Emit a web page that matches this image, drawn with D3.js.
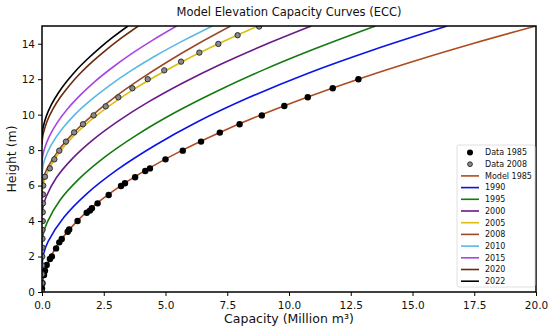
<!DOCTYPE html>
<html>
<head>
<meta charset="utf-8">
<script src="https://cdn.jsdelivr.net/npm/d3@7"></script>
<style>
  body { margin: 0; background: #fff; }
  svg { font-family: "DejaVu Sans", sans-serif; }
</style>
</head>
<body>
<svg id="chart" width="550" height="329"></svg>
<script>
// observed survey points [capacity, height]
const data1985 = [[0.0,0.2],[0.02,0.5],[0.08,0.96],[0.12,1.2],[0.19,1.52],[0.32,1.86],[0.4,2.0],[0.57,2.46],[0.7,2.8],[0.8,2.99],
  [1.04,3.4],[1.1,3.53],[1.44,4.0],[1.81,4.47],[1.94,4.59],[2.02,4.72],[2.25,5.0],[2.7,5.47],[3.2,5.98],[3.36,6.13],
  [3.77,6.47],[4.18,6.82],[4.37,6.97],[5.0,7.48],[5.7,7.97],[6.44,8.48],[7.2,8.99],[8.0,9.46],[8.9,9.96],[9.81,10.49],
  [10.76,10.98],[11.77,11.49],[12.81,12.0]];
const data2008 = [[0.0,0],[0.0,0.5],[0.01,1.0],[0.01,1.5],[0.01,2],[0.02,2.5],[0.02,3],[0.02,3.5],[0.03,4],[0.03,4.5],
  [0.04,5],[0.04,5.5],[0.05,6.0],[0.12,6.5],[0.32,6.97],[0.5,7.48],[0.7,7.97],[0.97,8.48],[1.3,9.0],[1.66,9.46],
  [2.09,9.96],[2.58,10.47],[3.09,10.98],[3.66,11.49],[4.28,12.0],[4.95,12.5],[5.63,12.99],[6.37,13.5],[7.14,13.99],
  [7.92,14.48],[8.79,14.97]];

// model curves [capacity, height]
const model1985 = [[0,0],[0.022,0.5],[0.089,1],[0.356,2],[0.8,3],[1.42,4],[2.22,5],[3.2,6],[4.36,7],[5.69,8],[7.2,9],
  [8.89,10],[10.76,11],[12.8,12],[15.02,13],[17.42,14],[20,15]];
const curve1990 = [[0,1.5],[0.07,2.18],[0.25,2.85],[0.88,4.2],[1.82,5.55],[3.05,6.9],[4.55,8.25],[6.3,9.6],[8.35,10.95],
  [10.7,12.3],[13.4,13.65],[16.4,15]];
const curve1995 = [[0,2.7],[0.06,3.32],[0.21,3.93],[0.72,5.16],[1.51,6.39],[2.55,7.62],[3.83,8.85],[5.33,10.08],[7.06,11.31],
  [8.99,12.54],[11.15,13.77],[13.5,15]];
const curve2000 = [[0,4.3],[0.05,4.84],[0.17,5.37],[0.58,6.44],[1.22,7.51],[2.06,8.58],[3.1,9.65],[4.31,10.72],[5.7,11.79],
  [7.26,12.86],[9.0,13.93],[10.9,15]];
const curve2005 = [[0,5.5],[0.04,5.98],[0.13,6.45],[0.47,7.4],[0.98,8.35],[1.65,9.3],[2.49,10.25],[3.46,11.2],[4.58,12.15],
  [5.83,13.1],[7.23,14.05],[8.75,15]];
const curve2008 = [[0,6],[0.072,6.5],[0.221,7],[0.676,8],[1.3,9],[2.07,10],[2.96,11],[3.98,12],[5.1,13],[6.32,14],[7.64,15]];
const curve2010 = [[0,6.6],[0.03,7.02],[0.1,7.44],[0.37,8.28],[0.77,9.12],[1.3,9.96],[1.96,10.8],[2.73,11.64],[3.61,12.48],
  [4.6,13.32],[5.7,14.16],[6.9,15]];
const curve2015 = [[0,7.2],[0.02,7.59],[0.08,7.98],[0.29,8.76],[0.61,9.54],[1.03,10.32],[1.55,11.1],[2.15,11.88],[2.85,12.66],
  [3.63,13.44],[4.5,14.22],[5.45,15]];
const curve2020 = [[0,8.3],[0.017,8.64],[0.06,8.97],[0.21,9.64],[0.44,10.31],[0.74,10.98],[1.11,11.65],[1.54,12.32],[2.04,12.99],
  [2.6,13.66],[3.22,14.33],[3.9,15]];
const curve2022 = [[0,8.7],[0.015,9.02],[0.053,9.33],[0.187,9.96],[0.39,10.59],[0.66,11.22],[0.99,11.85],[1.37,12.48],[1.82,13.11],
  [2.32,13.74],[2.87,14.37],[3.48,15]];

const curveNames = ["Model 1985", "1990", "1995", "2000", "2005", "2008", "2010", "2015", "2020", "2022"];
const curveData = [model1985, curve1990, curve1995, curve2000, curve2005, curve2008, curve2010, curve2015, curve2020, curve2022];
const curveColors = ["#b04a1e", "#0a14e6", "#137a10", "#6a1a8a", "#d9be10", "#9a4a2a", "#5ab8e6", "#a844e6", "#6a2a0a", "#000000"];

const xTicks = [0, 2.5, 5, 7.5, 10, 12.5, 15, 17.5, 20];
const yTicks = [0, 2, 4, 6, 8, 10, 12, 14];

const svg = d3.select("#chart");
const margin = {left: 42, right: 14, top: 26, bottom: 37};
const width = 550, height = 329;

const x = d3.scaleLinear().domain([0, 20]).range([margin.left, width - margin.right]);
const y = d3.scaleLinear().domain([0, 15]).range([height - margin.bottom, margin.top]);

svg.append("defs").append("clipPath").attr("id", "plotClip")
  .append("rect")
  .attr("x", margin.left).attr("y", margin.top)
  .attr("width", x(20) - x(0)).attr("height", y(0) - y(15));

const plot = svg.append("g").attr("clip-path", "url(#plotClip)");

const line = d3.line()
  .x(d => x(d[0]))
  .y(d => y(d[1]))
  .curve(d3.curveCatmullRom.alpha(0.5));

// draw curves first, then data on top
curveData.forEach((pts, i) => {
  plot.append("path")
    .attr("d", line(pts))
    .attr("fill", "none")
    .attr("stroke", curveColors[i])
    .attr("stroke-width", 1.6);
});

plot.selectAll(".d85").data(data1985).join("circle")
  .attr("cx", d => x(d[0])).attr("cy", d => y(d[1]))
  .attr("r", 3.2).attr("fill", "#000");

plot.selectAll(".d08").data(data2008).join("circle")
  .attr("cx", d => x(d[0])).attr("cy", d => y(d[1]))
  .attr("r", 2.7).attr("fill", "#8a8a8a")
  .attr("stroke", "#222").attr("stroke-width", 0.9);

// axes
const xAxis = svg.append("g")
  .attr("transform", `translate(0,${y(0)})`)
  .call(d3.axisBottom(x).tickValues(xTicks).tickFormat(d3.format(".1f")).tickSize(4).tickSizeOuter(0));
const yAxis = svg.append("g")
  .attr("transform", `translate(${x(0)},0)`)
  .call(d3.axisLeft(y).tickValues(yTicks).tickSize(4).tickSizeOuter(0));

[xAxis, yAxis].forEach(g => {
  g.select(".domain").remove();
  g.selectAll("line").attr("stroke", "#000").attr("stroke-width", 1);
  g.selectAll("text").attr("fill", "#111").style("font-size", "10.5px")
    .style("font-family", "DejaVu Sans, sans-serif");
});
xAxis.selectAll("text").attr("dy", "0.95em");

// frame
svg.append("rect")
  .attr("x", x(0)).attr("y", y(15))
  .attr("width", x(20) - x(0)).attr("height", y(0) - y(15))
  .attr("fill", "none").attr("stroke", "#000").attr("stroke-width", 1.5);

// labels
svg.append("text")
  .attr("x", (x(0) + x(20)) / 2).attr("y", 16)
  .attr("text-anchor", "middle").style("font-size", "11.5px").attr("fill", "#111")
  .text("Model Elevation Capacity Curves (ECC)");

svg.append("text")
  .attr("x", (x(0) + x(20)) / 2).attr("y", 323)
  .attr("text-anchor", "middle").style("font-size", "12.5px").attr("fill", "#111")
  .text("Capacity (Million m³)");

svg.append("text")
  .attr("transform", `translate(16,${(y(0) + y(15)) / 2}) rotate(-90)`)
  .attr("text-anchor", "middle").style("font-size", "12.5px").attr("fill", "#111")
  .text("Height (m)");

// legend
const legend = svg.append("g").attr("transform", "translate(457,145)");
legend.append("rect")
  .attr("width", 78).attr("height", 142).attr("rx", 2)
  .attr("fill", "#fff").attr("fill-opacity", 0.85)
  .attr("stroke", "#d8d8d8").attr("stroke-width", 0.8);

const rowH = 11.7;
const legendRows = ["Data 1985", "Data 2008"].concat(curveNames);
legendRows.forEach((name, i) => {
  const cy = 7.5 + i * rowH;
  const row = legend.append("g").attr("transform", `translate(0,${cy})`);
  if (i === 0) {
    row.append("circle").attr("cx", 13).attr("cy", 0).attr("r", 3).attr("fill", "#000");
  } else if (i === 1) {
    row.append("circle").attr("cx", 13).attr("cy", 0).attr("r", 2.4)
      .attr("fill", "#8a8a8a").attr("stroke", "#222").attr("stroke-width", 0.9);
  } else {
    row.append("line").attr("x1", 4).attr("x2", 22).attr("y1", 0).attr("y2", 0)
      .attr("stroke", curveColors[i - 2]).attr("stroke-width", 1.6);
  }
  row.append("text").attr("x", 28).attr("y", 0).attr("dy", "0.35em")
    .style("font-size", "8px").attr("fill", "#111").text(name);
});
</script>
</body>
</html>
